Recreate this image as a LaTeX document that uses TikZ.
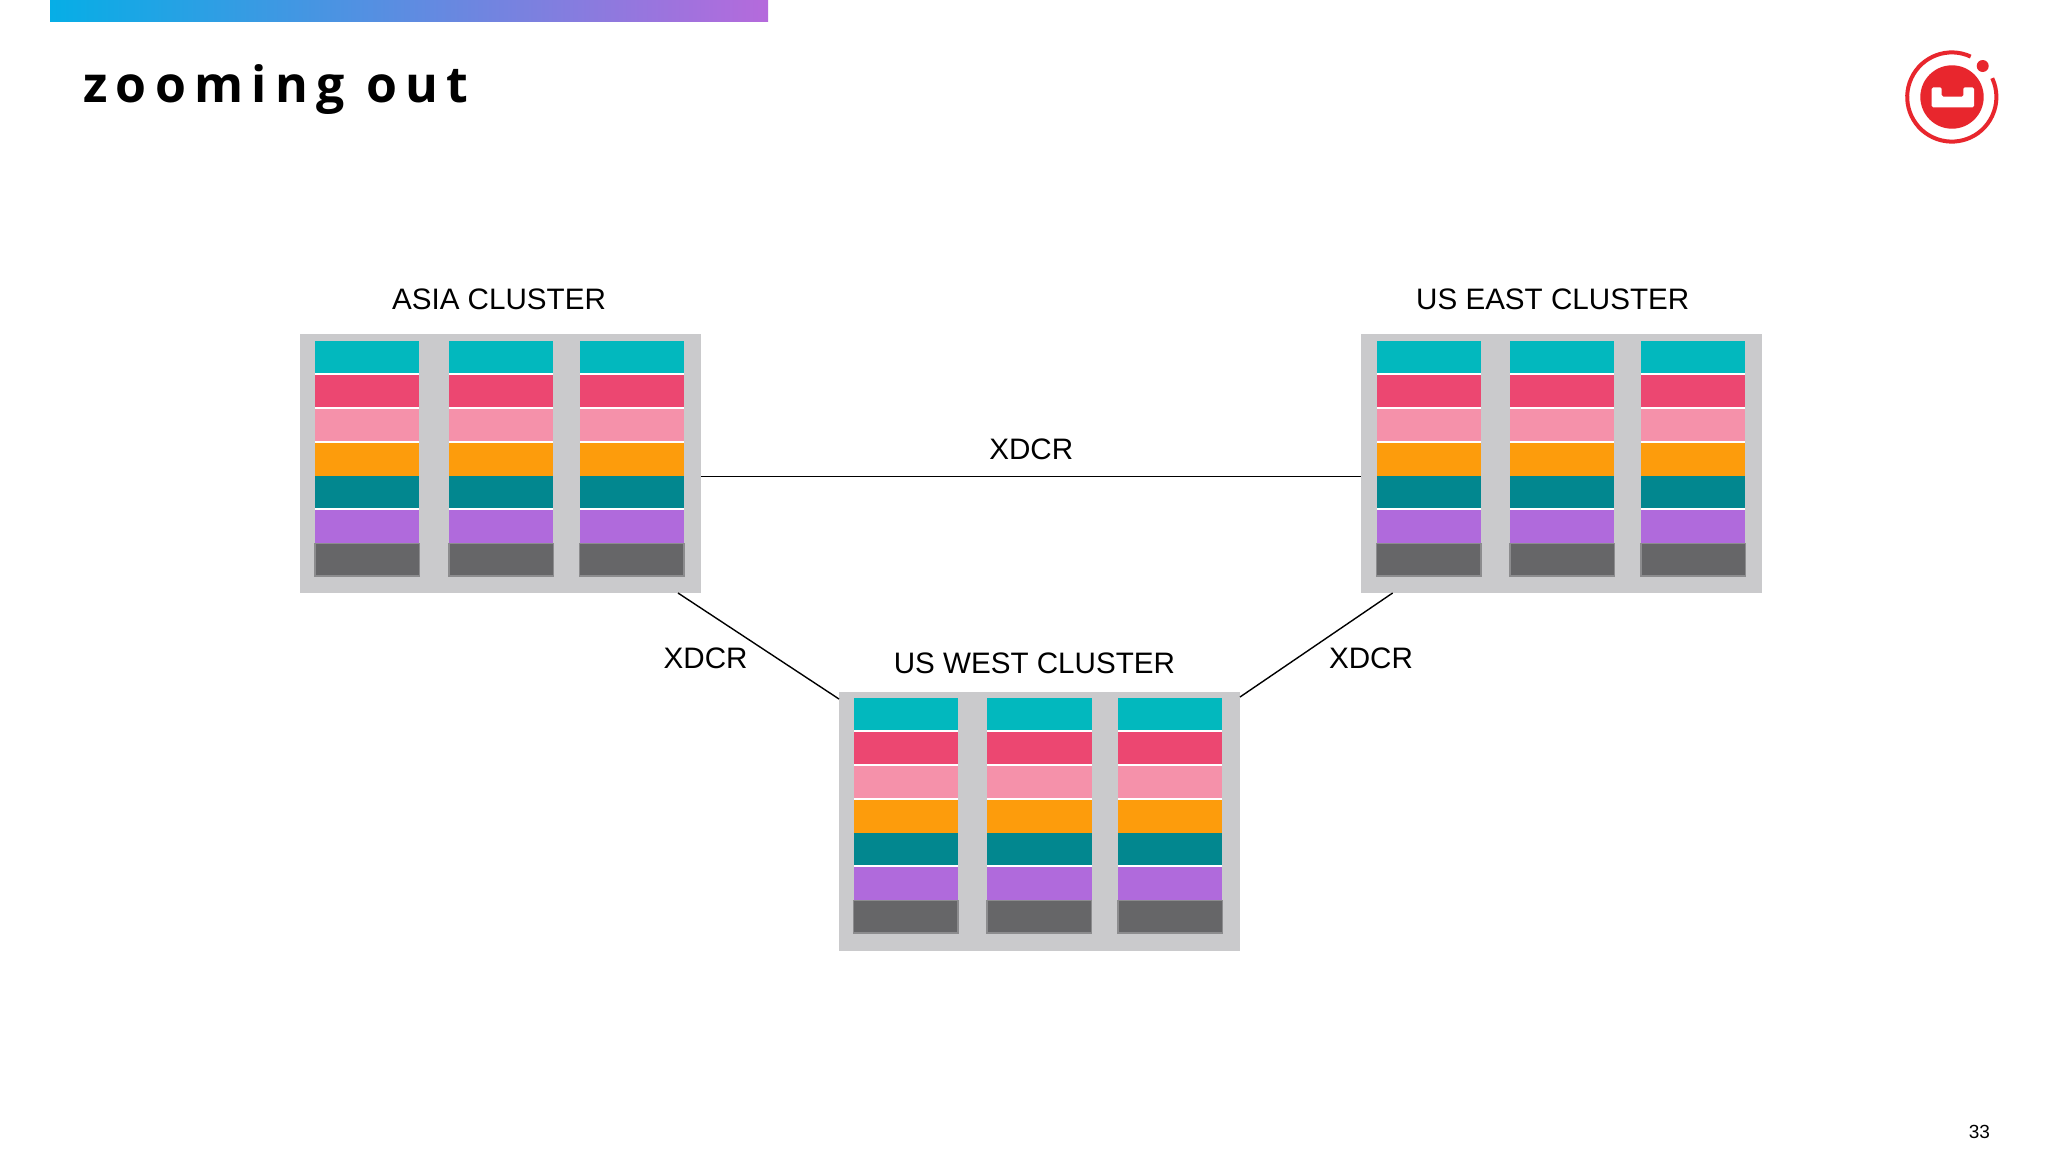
\documentclass[tikz,border=0pt]{standalone}
\usepackage{fontspec}
\setmainfont{Liberation Sans}
\newfontfamily\titlefont[LetterSpace=16.7]{Open Sans}
\definecolor{cTeal}{HTML}{02B8BE}
\definecolor{cRed}{HTML}{EC4771}
\definecolor{cPink}{HTML}{F591AA}
\definecolor{cOrange}{HTML}{FD9C0C}
\definecolor{cDark}{HTML}{02878F}
\definecolor{cPurple}{HTML}{B06ADC}
\definecolor{cGrey}{HTML}{666668}
\definecolor{cEdge}{HTML}{8C8C8E}
\definecolor{cPanel}{HTML}{CACACC}
\definecolor{cLogo}{HTML}{E8262D}
\definecolor{gA}{HTML}{06AEE6}
\definecolor{gB}{HTML}{709BDE}
\definecolor{gC}{HTML}{B56ADC}
\tikzset{
  panelbox/.style={fill=cPanel,draw=none,inner sep=0pt,outer sep=0pt,minimum width=401pt,minimum height=259pt,anchor=north west},
  barbox/.style={inner sep=0pt,outer sep=0pt,minimum width=104.4pt,anchor=north west},
  clusterlabel/.style={inner sep=0pt,outer sep=0pt,anchor=base,font=\fontsize{29.6}{36}\selectfont},
  linkline/.style={draw=black,line width=1.4pt},
}
% #1 name, #2 x, #3 top y of panel
\newcommand{\rackcolumn}[3]{%
  \node[fill=white,barbox,minimum height=203pt] (#1-back) at (#2,#3+7) {};
  \node[fill=cTeal,barbox,minimum height=32.3pt] (#1-a) at (#2,#3+7) {};
  \node[fill=cRed,barbox,minimum height=31.7pt] (#1-b) at (#2,#3+41.3) {};
  \node[fill=cPink,barbox,minimum height=32pt] (#1-c) at (#2,#3+75) {};
  \node[fill=cOrange,barbox,minimum height=33.6pt] (#1-d) at (#2,#3+108.7) {};
  \node[fill=cDark,barbox,minimum height=32pt] (#1-e) at (#2,#3+142.3) {};
  \node[fill=cPurple,barbox,minimum height=32.4pt] (#1-f) at (#2,#3+176.3) {};
  \node[fill=cGrey,draw=cEdge,line width=1.6pt,barbox,minimum height=32.7pt] (#1-g) at (#2,#3+209.5) {};
}
\begin{document}
\begin{tikzpicture}[x=1pt,y=-1pt]
\useasboundingbox (0,0) rectangle (2048,1152);
\fill[white] (0,0) rectangle (2048,1152);
% top bar
\shade[left color=gA,middle color=gB,right color=gC,draw=none] (50,0) rectangle (768,21);
% title
\node[inner sep=0pt,anchor=base west,font=\titlefont\bfseries\fontsize{50}{60}\selectfont] (title) at (83,102.5) {zooming out};
% logo
\fill[cLogo] (1952,97) circle[radius=31.7pt];
\draw[cLogo,line width=4pt] (1951.8,97) ++(65:44.6pt) arc[start angle=65,end angle=385,radius=44.6pt];
\fill[cLogo] (1982.7,66) circle[radius=6pt];
\fill[white,rounded corners=1.5pt] (1931.7,87.3) -- (1941.7,87.3) -- (1941.7,96.7) -- (1963.3,96.7) -- (1963.3,87.3) -- (1974,87.3) -- (1974,107.3) -- (1931.7,107.3) -- cycle;
% panels
\node[panelbox] (asia) at (300,334) {};
\node[panelbox] (east) at (1361,334) {};
\node[panelbox] (west) at (839,691.7) {};
% columns
\rackcolumn{asia1}{315}{334}
\rackcolumn{asia2}{449}{334}
\rackcolumn{asia3}{579.6}{334}
\rackcolumn{east1}{1376.6}{334}
\rackcolumn{east2}{1510}{334}
\rackcolumn{east3}{1641}{334}
\rackcolumn{west1}{853.5}{691}
\rackcolumn{west2}{987.2}{691}
\rackcolumn{west3}{1118}{691}
% labels
\node[clusterlabel] (asialabel) at (499,309) {ASIA CLUSTER};
\node[clusterlabel] (eastlabel) at (1552.7,309) {US EAST CLUSTER};
\node[clusterlabel] (westlabel) at (1034.4,673) {US WEST CLUSTER};
\node[clusterlabel] (xdcrtop) at (1031.3,459.7) {XDCR};
\node[clusterlabel] (xdcrleft) at (705.6,668.2) {XDCR};
\node[clusterlabel] (xdcrright) at (1371,668.2) {XDCR};
% connector ends
\coordinate (asiaE) at (asia.north east |- 0,476.3);
\coordinate (eastW) at (east.north west |- 0,476.3);
\coordinate (asiaS) at (678,593);
\coordinate (westNW) at (west.north west |- 0,699);
\coordinate (eastS) at (1392.6,593);
\coordinate (westNE) at (west.north east |- 0,697);
\draw[linkline] (asiaE) -- (eastW);
\draw[linkline] (asiaS) -- (westNW);
\draw[linkline] (eastS) -- (westNE);
% page number
\node[inner sep=0pt,anchor=base,font=\fontsize{19}{23}\selectfont] (pagenum) at (1979.3,1138.3) {33};
\end{tikzpicture}
\end{document}
